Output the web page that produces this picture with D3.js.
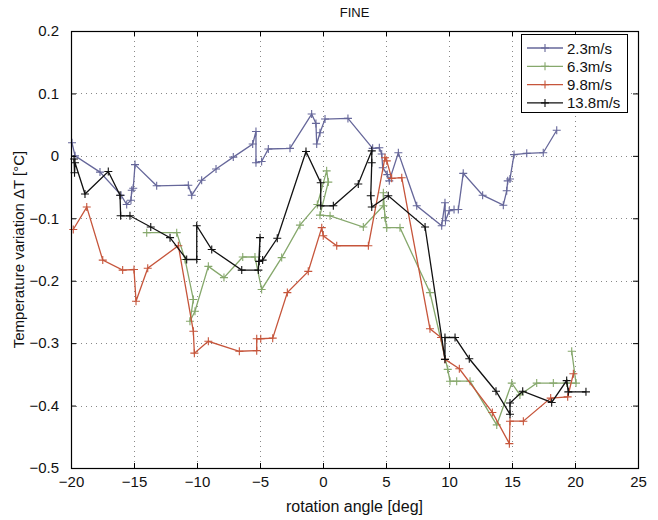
<!DOCTYPE html>
<html>
<head>
<meta charset="utf-8">
<script src="https://cdn.jsdelivr.net/npm/d3@7"></script>
<style>
  body { margin: 0; background: #fff; }
  text { font-family: "Liberation Sans", Arial, sans-serif; fill: #111; }
</style>
</head>
<body>
<svg id="chart" width="658" height="520"></svg>
<script>
// values (angle in deg, temperature variation in °C)
const angle23 = [-19.92,-19.68,-17.70,-16.03,-15.58,-15.24,-15.18,-15.06,-14.92,-13.2,-10.69,-10.42,-9.63,-8.49,-7.12,-5.58,-5.32,-5.32,-4.87,-4.34,-2.62,-0.90,-0.56,-0.50,-0.24,0.16,1.98,3.94,4.47,4.66,4.74,5.1,5.26,5.98,7.44,9.42,9.68,9.72,10.02,10.40,10.74,11.13,12.67,14.31,14.58,14.66,14.84,15.16,16.17,17.48,18.55];
const dT23 = [0.021,0.0,-0.026,-0.063,-0.078,-0.071,-0.055,-0.052,-0.014,-0.048,-0.047,-0.063,-0.039,-0.021,-0.002,0.019,0.039,-0.011,-0.009,0.011,0.012,0.067,0.052,0.019,0.037,0.059,0.060,0.012,0.013,0.003,-0.019,-0.03,-0.040,0.005,-0.080,-0.112,-0.075,-0.104,-0.088,-0.086,-0.086,-0.028,-0.063,-0.079,-0.056,-0.040,-0.037,0.002,0.004,0.005,0.041];

const angle63 = [-13.99,-11.61,-10.95,-10.29,-10.56,-10.16,-9.10,-7.86,-6.37,-5.40,-4.87,-3.28,-1.83,-0.45,0.29,0.42,-0.24,0.56,3.20,4.79,4.79,4.92,5.06,6.11,8.49,9.90,10.08,10.61,11.67,13.79,14.98,15.63,16.96,18.28,19.34,20.08,19.74];
const dT63 = [-0.123,-0.123,-0.166,-0.230,-0.265,-0.249,-0.177,-0.195,-0.162,-0.162,-0.214,-0.163,-0.111,-0.078,-0.024,-0.042,-0.095,-0.096,-0.114,-0.080,-0.059,-0.099,-0.115,-0.115,-0.219,-0.342,-0.361,-0.361,-0.361,-0.431,-0.364,-0.383,-0.364,-0.364,-0.364,-0.364,-0.313];

const angle98 = [-19.82,-18.75,-17.48,-15.90,-15.0,-14.84,-13.91,-11.48,-10.29,-10.21,-9.10,-6.64,-5.26,-5.26,-4.94,-3.99,-2.83,-1.17,-0.10,0.02,1.09,3.60,4.92,5.06,5.45,6.25,8.49,9.37,9.68,10.82,13.44,14.79,14.84,15.90,18.07,19.42,19.87];
const dT98 = [-0.118,-0.082,-0.167,-0.183,-0.182,-0.233,-0.180,-0.144,-0.281,-0.316,-0.297,-0.313,-0.312,-0.293,-0.293,-0.292,-0.219,-0.185,-0.115,-0.128,-0.144,-0.144,-0.003,-0.008,-0.036,-0.035,-0.277,-0.291,-0.326,-0.341,-0.411,-0.461,-0.425,-0.425,-0.388,-0.386,-0.349];

const angle138 = [-19.76,-19.72,-19.68,-18.89,-17.04,-16.11,-16.06,-15.32,-13.67,-12.14,-10.82,-10.02,-10.02,-8.83,-6.45,-5.13,-5.0,-5.06,-4.79,-3.63,-1.35,-0.18,-0.18,0.82,2.80,3.87,3.87,3.79,3.87,5.18,8.10,9.68,9.68,10.48,11.61,13.73,14.84,14.84,15.85,18.15,19.34,19.47,20.87];
const dT138 = [-0.005,-0.027,-0.011,-0.061,-0.025,-0.063,-0.096,-0.096,-0.114,-0.131,-0.166,-0.166,-0.112,-0.150,-0.183,-0.183,-0.131,-0.169,-0.167,-0.132,0.007,-0.043,-0.080,-0.080,-0.045,0.008,-0.011,-0.064,-0.082,-0.064,-0.114,-0.326,-0.291,-0.291,-0.325,-0.377,-0.414,-0.396,-0.377,-0.395,-0.360,-0.378,-0.378];

const seriesNames = ["2.3m/s", "6.3m/s", "9.8m/s", "13.8m/s"];
const seriesColors = ["#66679a", "#86a86c", "#c6553b", "#111111"];
const xTicks = [-20, -15, -10, -5, 0, 5, 10, 15, 20, 25];
const yTicks = [-0.5, -0.4, -0.3, -0.2, -0.1, 0, 0.1, 0.2];

const series = [
  [angle23, dT23], [angle63, dT63], [angle98, dT98], [angle138, dT138]
].map(function(s, i) {
  return { name: seriesNames[i], color: seriesColors[i],
           pts: s[0].map(function(a, j) { return [a, s[1][j]]; }) };
});

const svg = d3.select("#chart");
const mLeft = 71, mRight = 638, mTop = 31, mBottom = 468;

const x = d3.scaleLinear().domain([-20, 25]).range([mLeft, mRight]);
const y = d3.scaleLinear().domain([-0.5, 0.2]).range([mBottom, mTop]);

// dotted grid
const grid = svg.append("g")
  .attr("stroke", "#888").attr("stroke-width", 1)
  .attr("stroke-dasharray", "1,4").attr("shape-rendering", "crispEdges");
grid.selectAll(".gx").data(xTicks.slice(1, -1)).enter().append("line")
  .attr("x1", d => Math.round(x(d)) + 0.5).attr("x2", d => Math.round(x(d)) + 0.5)
  .attr("y1", mTop).attr("y2", mBottom);
grid.selectAll(".gy").data(yTicks.slice(1, -1)).enter().append("line")
  .attr("y1", d => Math.round(y(d)) + 0.5).attr("y2", d => Math.round(y(d)) + 0.5)
  .attr("x1", mLeft).attr("x2", mRight);

// series lines and + markers
const line = d3.line().x(d => x(d[0])).y(d => y(d[1]));
const plus = "M-4,0H4M0,-4V4";

const sg = svg.selectAll(".series").data(series).enter().append("g");
sg.append("path")
  .attr("d", d => line(d.pts))
  .attr("fill", "none").attr("stroke", d => d.color).attr("stroke-width", 1.3);
sg.each(function(s) {
  d3.select(this).selectAll(".m").data(s.pts).enter().append("path")
    .attr("d", plus)
    .attr("transform", d => "translate(" + x(d[0]) + "," + y(d[1]) + ")")
    .attr("stroke", s.color).attr("stroke-width", 1.1).attr("fill", "none");
});

// axes, ticks pointing inward on all four sides
const yFmt = d => d === 0 ? "0" : d3.format(".1f")(d);
function styleAxis(g) {
  g.select(".domain").remove();
  g.selectAll(".tick line").attr("stroke", "#000");
  g.selectAll(".tick text").attr("font-size", 15).attr("fill", "#111")
    .attr("font-family", "'Liberation Sans', Arial, sans-serif");
}
svg.append("g").attr("transform", "translate(0," + mBottom + ")")
  .call(d3.axisBottom(x).tickValues(xTicks).tickSize(-5).tickPadding(8))
  .call(styleAxis);
svg.append("g").attr("transform", "translate(" + mLeft + ",0)")
  .call(d3.axisLeft(y).tickValues(yTicks).tickFormat(yFmt).tickSize(-5).tickPadding(12))
  .call(styleAxis);
svg.append("g").attr("transform", "translate(0," + mTop + ")")
  .call(d3.axisTop(x).tickValues(xTicks).tickSize(-5).tickFormat(""))
  .call(styleAxis);
svg.append("g").attr("transform", "translate(" + mRight + ",0)")
  .call(d3.axisRight(y).tickValues(yTicks).tickSize(-5).tickFormat(""))
  .call(styleAxis);

svg.append("rect")
  .attr("x", mLeft + 0.5).attr("y", mTop + 0.5)
  .attr("width", mRight - mLeft).attr("height", mBottom - mTop)
  .attr("fill", "none").attr("stroke", "#000").attr("stroke-width", 1.2);

// labels
svg.append("text").attr("x", (mLeft + mRight) / 2).attr("y", 17)
  .attr("text-anchor", "middle").attr("font-size", 13).text("FINE");
svg.append("text").attr("x", (mLeft + mRight) / 2).attr("y", 512)
  .attr("text-anchor", "middle").attr("font-size", 16).text("rotation angle [deg]");
svg.append("text")
  .attr("transform", "translate(24," + (mTop + mBottom) / 2 + ") rotate(-90)")
  .attr("text-anchor", "middle").attr("font-size", 15)
  .text("Temperature variation \u0394T [\u00b0C]");

// legend
const lg = svg.append("g");
lg.append("rect").attr("x", 521.5).attr("y", 34.5).attr("width", 106).attr("height", 78)
  .attr("fill", "#fff").attr("stroke", "#000").attr("stroke-width", 1);
const row = lg.selectAll(".row").data(series).enter().append("g")
  .attr("transform", (d, i) => "translate(0," + (48 + i * 18.3) + ")");
row.append("line").attr("x1", 527).attr("x2", 563)
  .attr("stroke", d => d.color).attr("stroke-width", 1.3);
row.append("path").attr("d", plus).attr("transform", "translate(545,0)")
  .attr("stroke", d => d.color).attr("stroke-width", 1.1);
row.append("text").attr("x", 567).attr("y", 5.5).attr("font-size", 15).text(d => d.name);
</script>
</body>
</html>
